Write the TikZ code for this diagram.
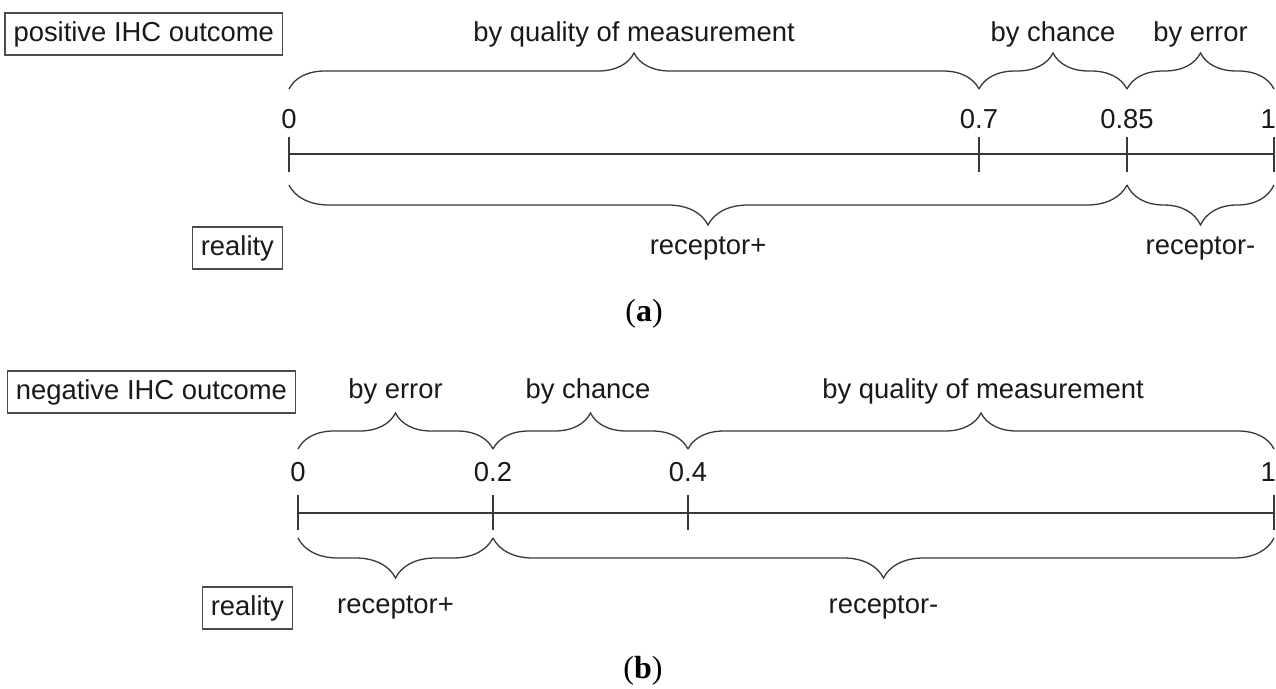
\documentclass[tikz,border=0pt]{standalone}
\usepackage{fontspec}
\setmainfont{Liberation Sans}
\newfontfamily\figcapfont{Liberation Serif}
\usetikzlibrary{decorations.pathreplacing}

\begin{document}
\begin{tikzpicture}[x=1pt,y=-1pt,
  txt/.style={font=\fontsize{27.4pt}{32pt}\selectfont, text=black!90, inner sep=0pt, anchor=base},
  tagbox/.style={draw=black!70, line width=1.1pt, font=\fontsize{27.4pt}{32pt}\selectfont,
    text=black!90, minimum height=42pt, inner xsep=8.5pt, inner ysep=0pt, anchor=east},
  capt/.style={font=\figcapfont\fontsize{32pt}{36pt}\selectfont, inner sep=0pt, anchor=center},
  axisline/.style={draw=black!78, line width=1.3pt},
  tickmark/.style={draw=black!78, line width=1.3pt},
  bracetop/.style={draw=black!78, line width=1.3pt, decorate, decoration={brace, amplitude=36pt}},
  bracebot/.style={draw=black!78, line width=1.3pt, decorate, decoration={brace, mirror, amplitude=40pt}},
]
\useasboundingbox (0,0) rectangle (1276,688);

% ---------------- (a) positive outcome ----------------
\node[tagbox] (posbox) at (283,34) {positive IHC outcome};
\node[tagbox] (realA) at (283,248) {reality};

% scale points on the axis
\coordinate (A0)  at (289,154);
\coordinate (A7)  at (979,154);
\coordinate (A85) at (1127,154);
\coordinate (A1)  at (1274,154);
\draw[axisline] (A0) -- (A1);
\foreach \p in {A0,A7,A85,A1}
  \draw[tickmark] ([yshift=17pt]\p) -- ([yshift=-18pt]\p);

% numbers
\node[txt] (nA0)  at (289,128)  {0};
\node[txt] (nA7)  at (979,128)  {0.7};
\node[txt] (nA85) at (1127,128) {0.85};
\node[txt, anchor=base east] (nA1) at (1276,128) {1};

% upper braces
\coordinate (Au0)  at (289,89);
\coordinate (Au7)  at (979,89);
\coordinate (Au85) at (1127,89);
\coordinate (Au1)  at (1274,89);
\draw[bracetop] (Au0) -- (Au7);
\draw[bracetop] (Au7) -- (Au85);
\draw[bracetop] (Au85) -- (Au1);
\node[txt] (qualA)   at (634,41)    {by quality of measurement};
\node[txt] (chanceA) at (1053,41)   {by chance};
\node[txt] (errA)    at (1200.5,41) {by error};

% lower braces
\coordinate (Al0)  at (289,185);
\coordinate (Al85) at (1127,185);
\coordinate (Al1)  at (1274,185);
\draw[bracebot] (Al0) -- (Al85);
\draw[bracebot] (Al85) -- (Al1);
\node[txt] (posA) at (708,254)    {receptor+};
\node[txt] (negA) at (1200.5,254) {receptor-};

\node[capt] (capA) at (644,314) {(\textbf{a})};

% ---------------- (b) negative outcome ----------------
\node[tagbox] (negbox) at (296,392) {negative IHC outcome};
\node[tagbox] (realB) at (293,608) {reality};

\coordinate (B0) at (298,513);
\coordinate (B2) at (493,513);
\coordinate (B4) at (688,513);
\coordinate (B1) at (1274,513);
\draw[axisline] (B0) -- (B1);
\foreach \p in {B0,B2,B4,B1}
  \draw[tickmark] ([yshift=18pt]\p) -- ([yshift=-17pt]\p);

\node[txt] (nB0) at (298,481)  {0};
\node[txt] (nB2) at (493,481)  {0.2};
\node[txt] (nB4) at (688,481)  {0.4};
\node[txt, anchor=base east] (nB1) at (1276,481) {1};

\coordinate (Bu0) at (298,449);
\coordinate (Bu2) at (493,449);
\coordinate (Bu4) at (688,449);
\coordinate (Bu1) at (1274,449);
\draw[bracetop] (Bu0) -- (Bu2);
\draw[bracetop] (Bu2) -- (Bu4);
\draw[bracetop] (Bu4) -- (Bu1);
\node[txt] (errB)    at (395.5,398) {by error};
\node[txt] (chanceB) at (588,398)   {by chance};
\node[txt] (qualB)   at (983,398)   {by quality of measurement};

\coordinate (Bl0) at (298,538);
\coordinate (Bl2) at (493,538);
\coordinate (Bl1) at (1274,538);
\draw[bracebot] (Bl0) -- (Bl2);
\draw[bracebot] (Bl2) -- (Bl1);
\node[txt] (posB) at (395.5,613) {receptor+};
\node[txt] (negB) at (883.5,613) {receptor-};

\node[capt] (capB) at (643,671) {(\textbf{b})};
\end{tikzpicture}
\end{document}
